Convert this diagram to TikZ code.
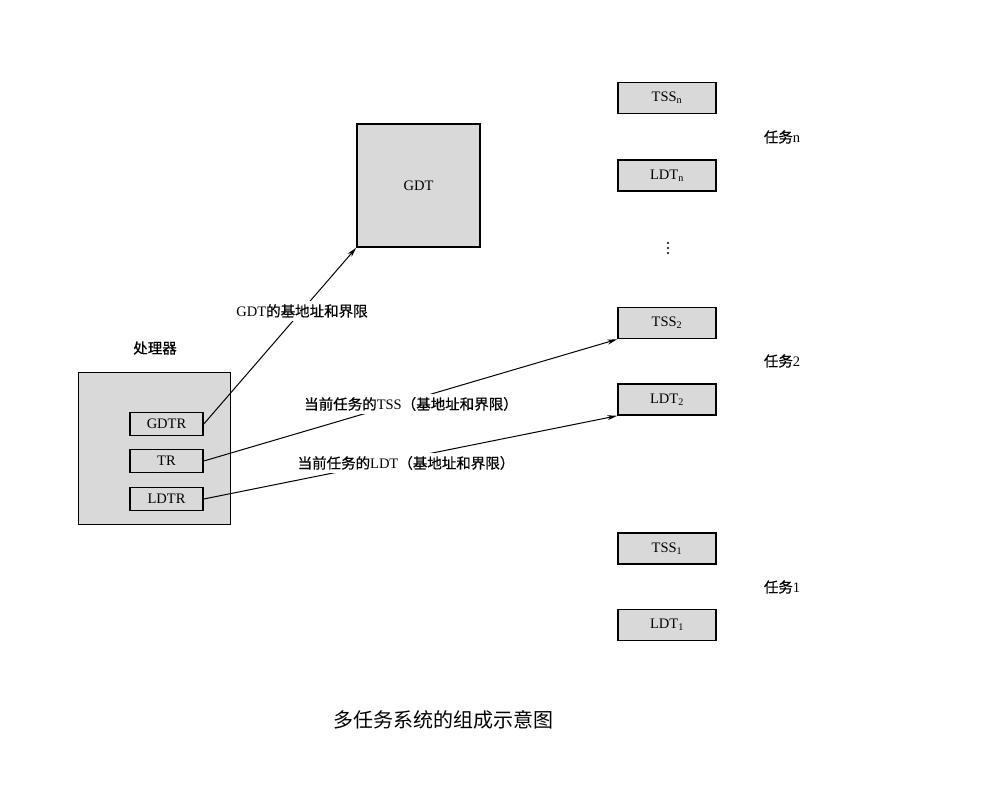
\documentclass[tikz,border=0pt]{standalone}
\usepackage{fontspec}
\setmainfont{Liberation Serif}
\newfontfamily\cjk{Noto Sans CJK SC}
\newfontfamily\cjkb[FakeBold=0.6]{Noto Sans CJK SC}
\usetikzlibrary{arrows.meta}
\definecolor{boxgray}{HTML}{D9D9D9}
\begin{document}
\begin{tikzpicture}[x=1pt,y=-1pt,
  regbox/.style={draw,line width=1.6pt,fill=boxgray,minimum width=73pt,minimum height=23pt,inner sep=0pt,font=\fontsize{14.5}{14.5}\selectfont},
  membox/.style={draw,line width=1.6pt,fill=boxgray,minimum width=98pt,minimum height=31pt,inner sep=0pt,font=\fontsize{14.5}{14.5}\selectfont},
  lbl/.style={font=\fontsize{14.5}{14.5}\selectfont,inner sep=2pt},
  tag/.style={fill=white,font=\fontsize{14.5}{14.5}\selectfont,inner sep=3pt},
  arr/.style={line width=1pt,-{Stealth[length=10pt,width=5pt]}}]
\useasboundingbox (0,0) rectangle (996,799);
% processor
\node[draw,line width=0.8pt,fill=boxgray,minimum width=152pt,minimum height=152pt,inner sep=0pt] (cpu) at (154,448) {};
\node[lbl] (cpulbl) at (155,348) {\cjkb 处理器};
\node[regbox] (gdtr) at (166.5,424) {GDTR};
\node[regbox] (tr) at (166.5,461) {TR};
\node[regbox] (ldtr) at (166.5,499) {LDTR};
% GDT
\node[draw,line width=1.6pt,fill=boxgray,minimum width=123pt,minimum height=123pt,inner sep=0pt,font=\fontsize{14.5}{14.5}\selectfont] (gdt) at (418.5,185.5) {GDT};
% task memory
\node[membox] (tssn) at (667,98) {TSS\textsubscript{n}};
\node[membox] (ldtn) at (667,175.5) {LDT\textsubscript{n}};
\node[lbl] (taskn) at (782,137) {{\cjkb 任务}n};
\fill (668,243) circle (1.1pt) (668,248) circle (1.1pt) (668,253) circle (1.1pt);
\node[membox] (tss2) at (667,323) {TSS\textsubscript{2}};
\node[membox] (ldt2) at (667,399.5) {LDT\textsubscript{2}};
\node[lbl] (task2) at (782,361) {{\cjkb 任务}2};
\node[membox] (tss1) at (667,548.5) {TSS\textsubscript{1}};
\node[membox] (ldt1) at (667,625) {LDT\textsubscript{1}};
\node[lbl] (task1) at (782,587) {{\cjkb 任务}1};
% connectors
\draw[arr] (gdtr.east) -- (gdt.south west);
\node[tag] (t1) at (302,311) {GDT{\cjkb 的基地址和界限}};
\draw[arr] (tr.east) -- (tss2.south west);
\node[tag] (t2) at (411,404) {{\cjkb 当前任务的}TSS{\cjkb （基地址和界限）}};
\draw[arr] (ldtr.east) -- (ldt2.south west);
\node[tag] (t3) at (406,463) {{\cjkb 当前任务的}LDT{\cjkb （基地址和界限）}};
% caption
\node[font=\fontsize{20}{20}\selectfont] (cap) at (443,720) {\cjk 多任务系统的组成示意图};
\end{tikzpicture}
\end{document}
